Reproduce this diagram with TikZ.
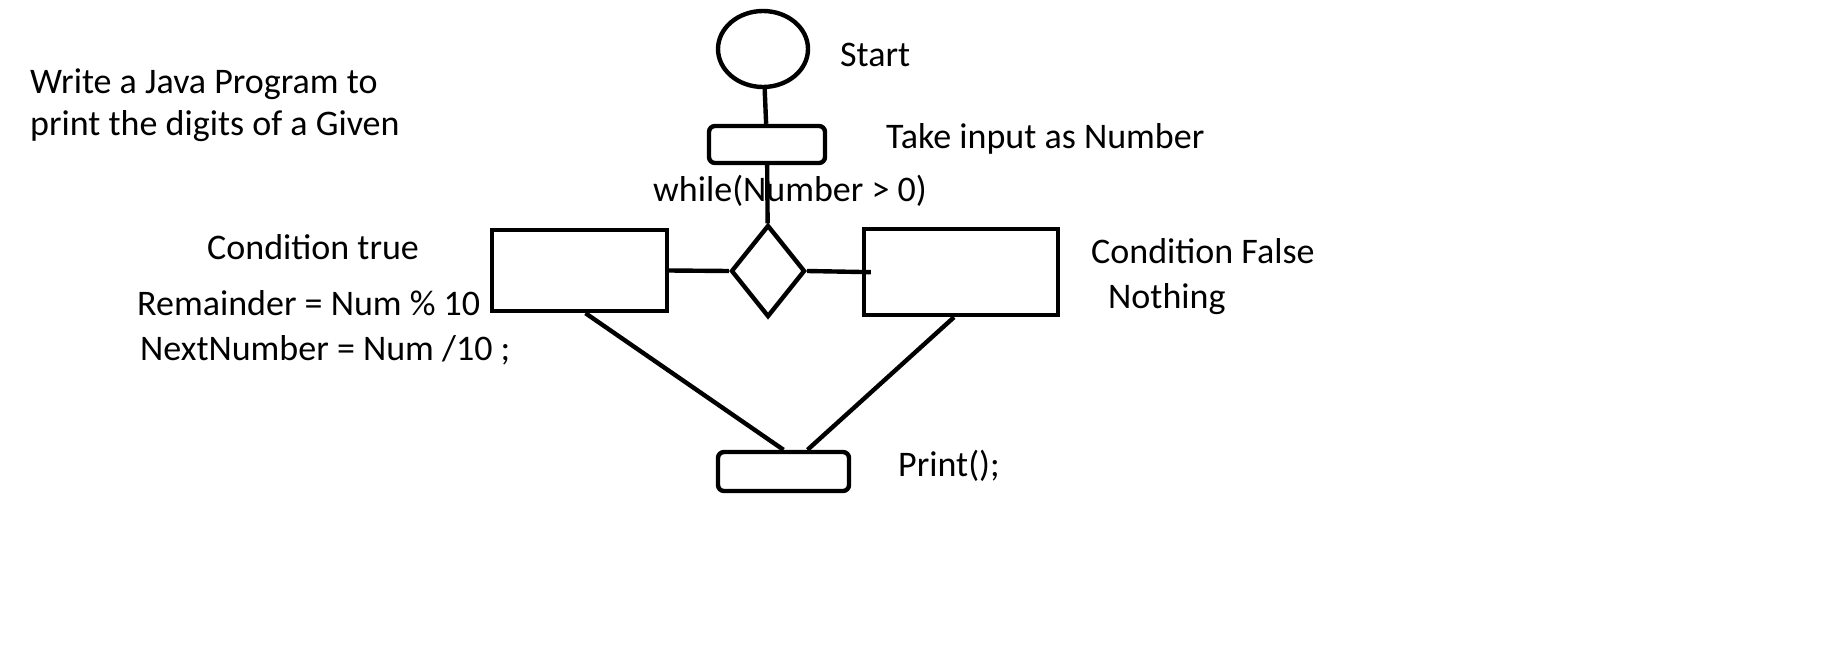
\documentclass[tikz,border=0pt]{standalone}
\usepackage{fontspec}
\setmainfont{Carlito}
\usetikzlibrary{shapes.geometric}

\begin{document}
\begin{tikzpicture}[x=0.5pt, y=-0.5pt, line width=2.2pt,
  every node/.style={font=\fontsize{18pt}{22pt}\selectfont},
  txt/.style={anchor=west, inner sep=0pt},
  box/.style={draw, rectangle, inner sep=0pt},
  roundbox/.style={draw, rectangle, rounded corners=3pt, inner sep=0pt}]
\useasboundingbox (0,0) rectangle (1825,664);
% flow shapes
\node[draw, ellipse, minimum width=45pt, minimum height=38pt, inner sep=0pt] (start) at (763,49) {};
\node[roundbox, minimum width=58pt, minimum height=18.5pt] (input) at (767,144.5) {};
\node[draw, diamond, minimum width=37pt, minimum height=46pt, inner sep=0pt] (cond) at (768,271) {};
\node[box, minimum width=87.5pt, minimum height=40.5pt] (truebox) at (579.5,270.5) {};
\node[box, minimum width=97pt, minimum height=43pt] (falsebox) at (961,272) {};
\node[roundbox, minimum width=65.5pt, minimum height=19.5pt] (print) at (783.5,471.5) {};
% connectors
\draw (start) -- (input);
\draw (input) -- (cond);
\draw (truebox.east) -- (cond.west);
\draw[shorten >=-4.5pt] (cond.east) -- (falsebox.west);
\draw ([xshift=3pt]truebox.south) -- (print.north);
\draw ([xshift=-3.5pt]falsebox.south) -- ([xshift=12pt]print.north);
% texts
\node[txt] (title1) at (28,84) {Write a Java Program to};
\node[txt] (title2) at (28,126) {print the digits of a Given};
\node[txt] (startlbl) at (838,55) {Start};
\node[txt] (inputlbl) at (884,139) {Take input as Number};
\node[txt] (whilelbl) at (651,191) {while(Number > 0)};
\node[txt] (truelbl) at (205,247) {Condition true};
\node[txt] (remlbl) at (135,303) {Remainder = Num \% 10};
\node[txt] (nextlbl) at (138,350) {NextNumber = Num /10 ;};
\node[txt] (falselbl) at (1089,251) {Condition False};
\node[txt] (nothinglbl) at (1106,299) {Nothing};
\node[txt] (printlbl) at (896,466) {Print();};
\end{tikzpicture}
\end{document}
